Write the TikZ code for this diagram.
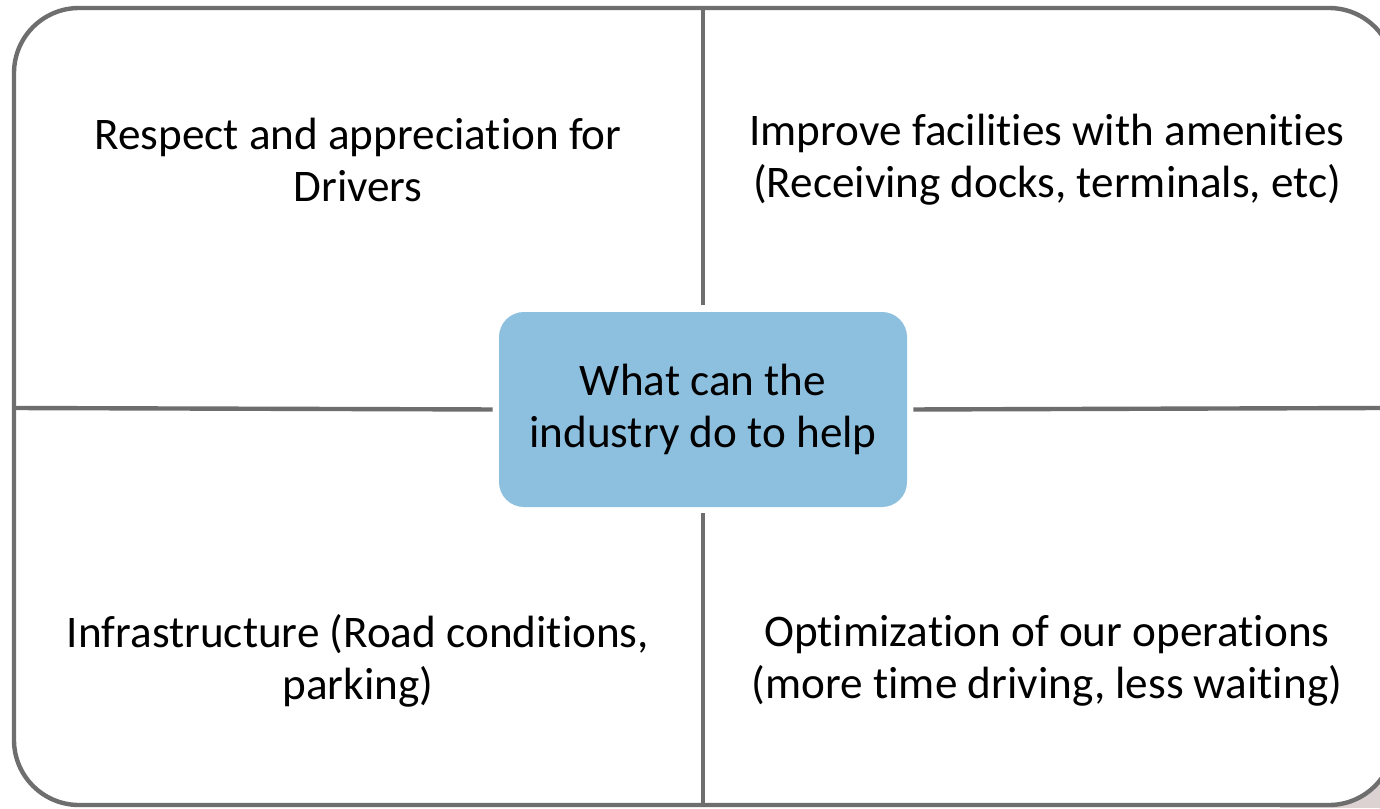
\documentclass[tikz,border=0pt]{standalone}
\usepackage{fontspec}
\setmainfont{Carlito}[RawFeature={-liga;-calt;-dlig;-clig}]
\definecolor{framegray}{RGB}{110,110,110}
\definecolor{hubblue}{RGB}{141,192,223}
\definecolor{cornerpink}{RGB}{220,210,210}
\begin{document}
\begin{tikzpicture}[x=0.5pt,y=-0.5pt,
  divider/.style={draw=framegray, line width=2.2pt},
  cell/.style={align=center, font=\fontsize{22.6pt}{26pt}\selectfont, inner sep=0pt},
  hub/.style={fill=hubblue, rounded corners=12.5pt, minimum width=204pt, minimum height=97.5pt, align=center, font=\fontsize{22.6pt}{26pt}\selectfont}]
\useasboundingbox (0,0) rectangle (1380,808);
% outside corner
\fill[cornerpink] (1280,720) rectangle (1380,808);
% frame
\draw[divider, fill=white, rounded corners=32.5pt] (14,8) rectangle (1394,805);
% center
\node[hub] (hub) at (703,409.5) {What can the\\industry do to help};
\coordinate (top) at (703,8);
\coordinate (bottom) at (703,805);
\coordinate (left) at (14,408);
\coordinate (right) at (1380,408);
\draw[divider, shorten >=3.5pt] (top) -- (hub.north);
\draw[divider, shorten >=3pt] (bottom) -- (hub.south);
\draw[divider, shorten >=3pt] (left) -- (hub.west);
\draw[divider, shorten >=3pt] (right) -- (hub.east);
% quadrants
\node[cell] (respect) at (358,160) {Respect and appreciation for\\Drivers};
\node[cell] (facilities) at (1047,160) {Improve facilities with amenities\\(Receiving docks, terminals, etc)};
\node[cell] (infra) at (358,661) {Infrastructure (Road conditions,\\parking)};
\node[cell] (optim) at (1047,661) {Optimization of our operations\\(more time driving, less waiting)};
\end{tikzpicture}
\end{document}
